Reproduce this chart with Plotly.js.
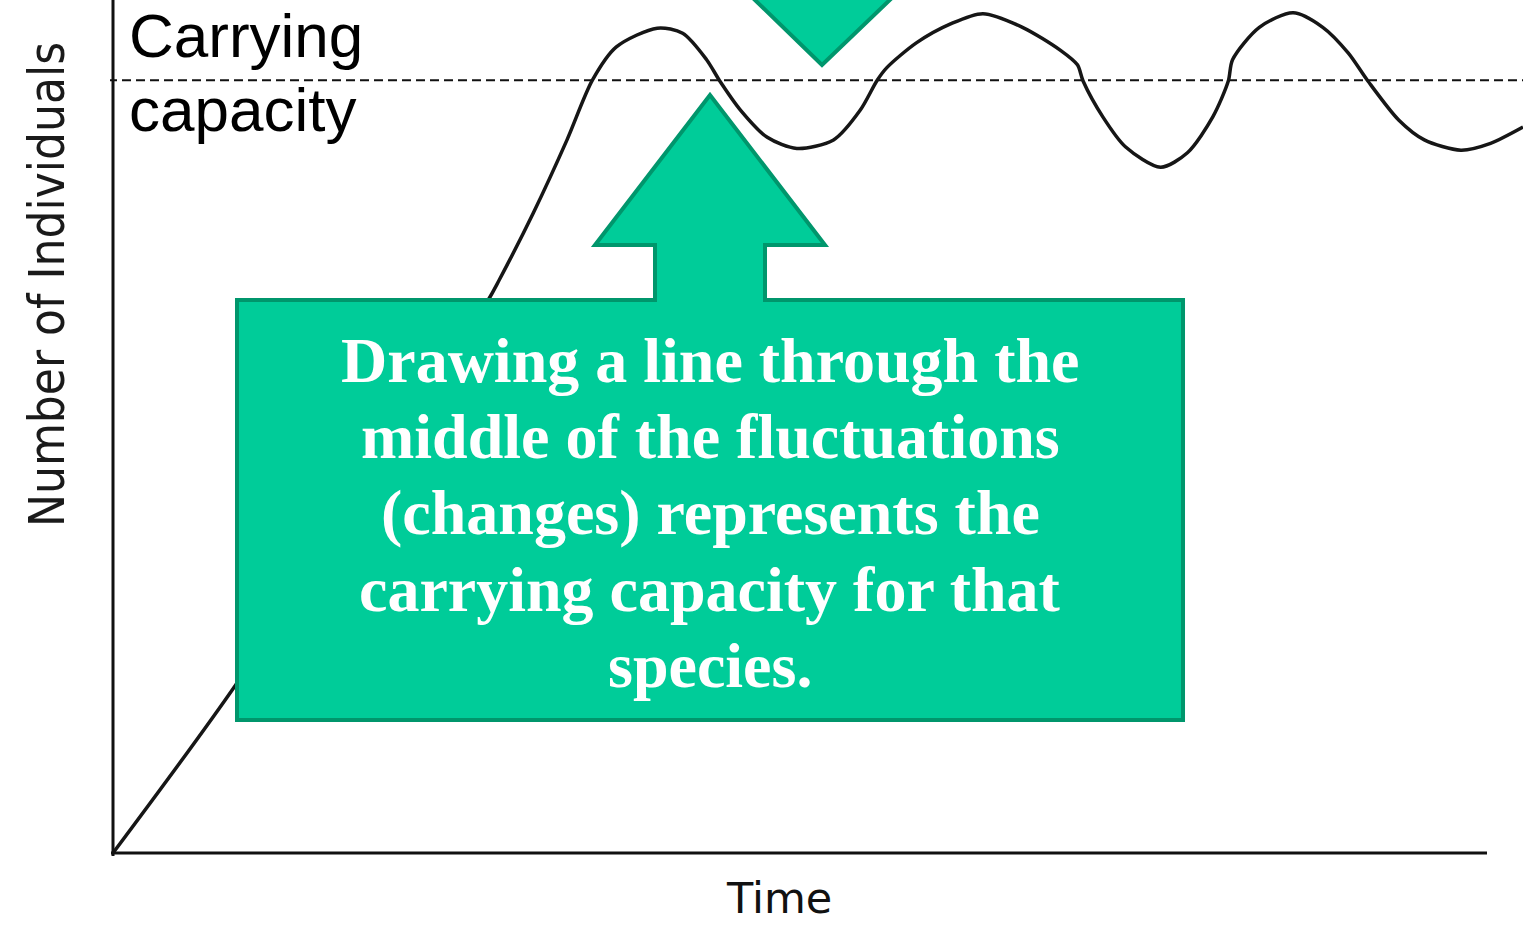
<!DOCTYPE html>
<html>
<head>
<meta charset="utf-8">
<script src="https://cdn.plot.ly/plotly-3.0.1.min.js"></script>
<style>html,body{margin:0;padding:0;background:#fff;}#chart{width:1523px;height:926px;}</style>
</head>
<body>
<div id="chart"></div>
<script>
// ---- data ----
const time = [0, 8.7, 26.6, 27.4, 29.8, 32.2, 34.0, 35.7, 38.6, 40.4, 42.1, 43.0, 44.5, 46.4, 48.5, 51.1, 53.0, 54.2, 54.9, 57.0, 59.4, 61.7, 64.5, 67.2, 68.4, 68.8, 70.2, 71.8, 74.3, 76.2, 78.0, 79.1, 79.4, 81.3, 83.7, 85.8, 87.6, 89.0, 91.2, 93.0, 95.6, 97.7, 100];
const individuals = [0, 19.7, 64.8, 67.2, 75.0, 83.6, 90.6, 94.5, 96.7, 96.1, 93.0, 90.6, 87.1, 83.9, 82.6, 83.6, 87.1, 90.6, 92.1, 95.0, 97.2, 98.4, 96.8, 94.1, 92.4, 90.5, 86.3, 82.8, 80.4, 82.1, 86.3, 90.5, 93.0, 96.8, 98.5, 96.8, 93.8, 90.5, 85.9, 83.6, 82.4, 83.2, 85.1];
const carryingCapacity = 90.6;
const capacityLabel = ["Carrying", "capacity"];
const boxLines = ["Drawing a line through the", "middle of the fluctuations", "(changes) represents the", "carrying capacity for that", "species."];
const xTitle = "Time";
const yTitle = "Number of Individuals";

// ---- layout helpers (pixel -> axis / paper units) ----
const SX = 14.1, SY = 8.53;
const px2x = p => (p - 113) / SX;
const py2y = p => (853 - p) / SY;
const PL = 110, PW = 1413, PH = 856;
const px2p = p => (p - PL) / PW;
const py2p = p => (PH - p) / PH;
function path(pts) {
  return 'M' + pts.map(p => px2x(p[0]).toFixed(3) + ',' + py2y(p[1]).toFixed(3)).join(' L') + ' Z';
}

const green = '#00CC99', greenEdge = '#00966C';

const traces = [
  {x: [px2x(108), 100], y: [carryingCapacity, carryingCapacity], mode: 'lines',
   line: {color: '#111', width: 2, dash: '9px,5px'}, hoverinfo: 'skip'},
  {x: time, y: individuals, mode: 'lines',
   line: {color: '#161616', width: 3.5, shape: 'spline', smoothing: 0.8}, hoverinfo: 'skip'}
];

const shapes = [
  {type: 'line', x0: 0, x1: 0, y0: py2y(856), y1: 102, line: {color: '#111', width: 3}},
  {type: 'line', x0: px2x(111), x1: px2x(1487), y0: 0, y1: 0, line: {color: '#111', width: 3}},
  {type: 'path', path: path([[237,720],[237,300],[655,300],[655,245],[595,245],[710,95],[825,245],[765,245],[765,300],[1183,300],[1183,720]]),
   fillcolor: green, line: {color: greenEdge, width: 4}},
  {type: 'path', path: path([[724,-30],[921,-30],[822,65]]),
   fillcolor: green, line: {color: greenEdge, width: 4}}
];

const annotations = [];
const capBase = [57, 131];
capacityLabel.forEach((t, i) => annotations.push({
  text: t, x: px2p(127), y: py2p(capBase[i] - 21.5), xref: 'paper', yref: 'paper',
  xanchor: 'left', yanchor: 'middle', showarrow: false,
  font: {family: 'Liberation Sans, Arial, sans-serif', size: 62, color: '#000'}
}));
const boxBase = [382, 458, 534.5, 611, 687];
boxLines.forEach((t, i) => annotations.push({
  text: '<b>' + t + '</b>', x: px2p(710), y: py2p(boxBase[i] - 21.6), xref: 'paper', yref: 'paper',
  xanchor: 'center', yanchor: 'middle', showarrow: false,
  font: {family: 'Liberation Serif, Times New Roman, serif', size: 64, color: '#fff'}
}));
annotations.push({
  text: xTitle, x: px2p(779), y: py2p(898), xref: 'paper', yref: 'paper',
  xanchor: 'center', yanchor: 'middle', showarrow: false,
  font: {family: 'DejaVu Sans, Verdana, sans-serif', size: 43, color: '#111'}
});
annotations.push({
  text: yTitle, x: px2p(47), y: py2p(285), xref: 'paper', yref: 'paper', textangle: -90,
  xanchor: 'center', yanchor: 'middle', showarrow: false,
  font: {family: 'DejaVu Sans Condensed, DejaVu Sans, sans-serif', size: 49, color: '#1a1a1a'}
});

const layout = {
  width: 1523, height: 926,
  margin: {l: PL, r: 0, t: 0, b: 926 - PH, pad: 0},
  paper_bgcolor: '#fff', plot_bgcolor: '#fff',
  showlegend: false,
  xaxis: {range: [-3 / SX, 100], showgrid: false, zeroline: false, showline: false, showticklabels: false, ticks: '', fixedrange: true},
  yaxis: {range: [-3 / SY, 100], showgrid: false, zeroline: false, showline: false, showticklabels: false, ticks: '', fixedrange: true},
  shapes: shapes,
  annotations: annotations
};

Plotly.newPlot('chart', traces, layout, {displayModeBar: false, staticPlot: true});
</script>
</body>
</html>
